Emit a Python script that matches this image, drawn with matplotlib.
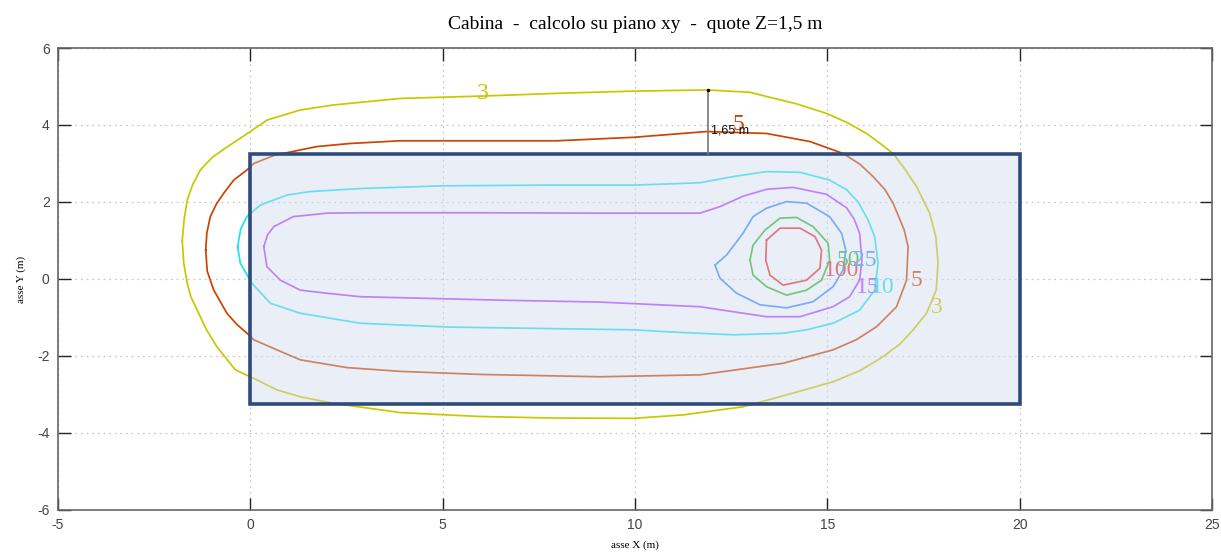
import matplotlib
matplotlib.use('Agg')
import matplotlib.pyplot as plt
from matplotlib.patches import Rectangle

plt.rcParams['axes.unicode_minus'] = False

# contour levels (uT) and colours
levels = [3, 5, 10, 15, 25, 50, 100]
colors = ['#c8c800', '#cc4400', '#20e2f0', '#b444ff', '#3a8cff', '#30b830', '#e83232']

# contour lines (x, y in m)
x3 = [-1.77, -1.72, -1.64, -1.5, -1.3, -1.0, -0.65, -0.3, 0.0, 0.44, 1.3, 2.16, 3.9, 5.97, 7.9, 9.95, 11.87,
      12.99, 13.42, 14.2, 14.98, 15.5, 16.02, 16.4, 16.71, 17.02, 17.32, 17.66, 17.82, 17.88, 17.83, 17.58,
      17.23, 16.9, 16.45, 15.85, 15.15, 13.94, 12.81, 11.25, 9.96, 7.79, 5.9, 3.9, 2.16, 1.3, 0.69, 0.17,
      -0.39, -0.87, -1.15, -1.38, -1.55, -1.64, -1.73, -1.77]
y3 = [1.0, 1.55, 2.05, 2.45, 2.83, 3.15, 3.4, 3.63, 3.83, 4.13, 4.39, 4.52, 4.69, 4.75, 4.82, 4.88, 4.91,
      4.85, 4.74, 4.55, 4.30, 4.07, 3.78, 3.5, 3.26, 2.85, 2.40, 1.71, 1.1, 0.41, -0.29, -0.89,
      -1.32, -1.68, -2.02, -2.38, -2.67, -3.01, -3.32, -3.53, -3.62, -3.61, -3.57, -3.47, -3.23, -3.06, -2.88,
      -2.62, -2.36, -1.76, -1.3, -0.81, -0.45, -0.11, 0.4, 1.0]

x5 = [-1.16, -1.13, -1.04, -0.88, -0.69, -0.43, -0.09, 0.09, 0.69, 0.95, 1.73, 2.6, 3.9, 7.97, 9.96, 11.86,
      13.42, 14.55, 15.41, 15.85, 16.19, 16.5, 16.71, 17.0, 17.1, 17.06, 16.8, 16.28, 15.75, 15.15, 13.85,
      11.69, 9.09, 6.0, 3.9, 2.5, 1.3, 0.69, 0.09, -0.04, -0.35, -0.61, -0.95, -1.12, -1.16]
y5 = [0.75, 1.2, 1.62, 1.95, 2.23, 2.57, 2.83, 3.0, 3.24, 3.28, 3.44, 3.52, 3.59, 3.59, 3.68, 3.83,
      3.78, 3.57, 3.26, 2.98, 2.66, 2.32, 1.97, 1.27, 0.84, -0.03, -0.72, -1.24, -1.58, -1.84, -2.19,
      -2.49, -2.54, -2.48, -2.4, -2.3, -2.1, -1.84, -1.58, -1.45, -1.18, -0.89, -0.29, 0.2, 0.75]

x10 = [-0.33, -0.25, -0.09, 0.26, 0.95, 1.56, 2.86, 5.0, 8.0, 10.0, 11.17, 11.69, 12.55, 13.42, 14.29,
       15.06, 15.5, 15.8, 16.05, 16.23, 16.32, 16.23, 15.84, 15.15, 14.46, 13.85, 12.55, 10.82, 9.95, 5.19,
       2.86, 1.3, 0.52, 0.04, -0.26, -0.33]
y10 = [0.84, 1.3, 1.62, 1.92, 2.18, 2.27, 2.35, 2.42, 2.44, 2.44, 2.48, 2.5, 2.66, 2.79, 2.77,
       2.57, 2.32, 2.0, 1.55, 1.1, 0.41, -0.29, -0.81, -1.15, -1.32, -1.41, -1.45, -1.37, -1.32, -1.25,
       -1.15, -0.89, -0.63, -0.11, 0.41, 0.84]

x15 = [0.35, 0.45, 0.61, 1.12, 1.99, 2.86, 6.0, 9.0, 11.69, 12.21, 12.81, 13.42, 14.11, 14.98, 15.5,
       15.7, 15.84, 15.9, 15.84, 15.58, 15.15, 14.29, 13.42, 12.55, 11.69, 9.09, 6.49, 2.86, 1.99, 1.3,
       0.78, 0.43, 0.35]
y15 = [0.84, 1.15, 1.36, 1.62, 1.71, 1.72, 1.72, 1.71, 1.71, 1.88, 2.15, 2.33, 2.38, 2.2, 1.85,
       1.55, 1.19, 0.49, -0.03, -0.46, -0.72, -0.98, -0.98, -0.85, -0.72, -0.6, -0.55, -0.46, -0.37, -0.29,
       -0.03, 0.32, 0.84]

x25 = [12.08, 12.38, 12.81, 13.07, 13.42, 13.94, 14.46, 15.06, 15.37, 15.48, 15.41, 15.15, 14.63,
       13.94, 13.25, 12.64, 12.21, 12.08]
y25 = [0.36, 0.62, 1.19, 1.62, 1.84, 2.01, 1.97, 1.62, 1.19, 0.75, 0.23, -0.2, -0.59,
       -0.75, -0.67, -0.37, 0.02, 0.36]

x50 = [12.99, 13.07, 13.38, 13.77, 14.2, 14.63, 15.02, 15.06, 14.85, 14.46, 13.94, 13.42, 13.07, 12.99]
y50 = [0.49, 0.88, 1.27, 1.58, 1.6, 1.36, 0.93, 0.49, -0.03, -0.29, -0.42, -0.2, 0.1, 0.49]

x100 = [13.42, 13.77, 14.29, 14.68, 14.85, 14.81, 14.46, 13.85, 13.51, 13.4, 13.42]
y100 = [1.01, 1.32, 1.32, 1.1, 0.75, 0.28, -0.03, -0.16, 0.1, 0.49, 1.01]

# labels: text, x, y, colour index
lab_text = ['3', '5', '100', '50', '25', '15', '10', '5', '3']
lab_x = [6.05, 12.68, 15.38, 15.55, 15.97, 16.05, 16.44, 17.32, 17.84]
lab_y = [4.83, 4.02, 0.23, 0.49, 0.49, -0.23, -0.23, -0.03, -0.73]
lab_c = [0, 1, 6, 5, 4, 3, 2, 1, 0]

# cabin outline
cab_x0, cab_x1 = 0, 20
cab_y0, cab_y1 = -3.25, 3.25

# distance marker
dist_x = 11.9
dist_y0, dist_y1 = 3.25, 4.91

fig = plt.figure(figsize=(12.21, 5.53), dpi=100)
ax = fig.add_axes([0.0475, 0.0778, 0.9451, 0.8354])

lines_x = [x3, x5, x10, x15, x25, x50, x100]
lines_y = [y3, y5, y10, y15, y25, y50, y100]
for i in range(len(levels)):
    ax.plot(lines_x[i], lines_y[i], color=colors[i], lw=1.25, zorder=2)

for t, lx, ly, ci in zip(lab_text, lab_x, lab_y, lab_c):
    ax.text(lx, ly, t, color=colors[ci], fontsize=17, family='Liberation Serif',
            ha='center', va='center', zorder=2)

# semi transparent cabin over the lines
ax.add_patch(Rectangle((cab_x0, cab_y0), cab_x1 - cab_x0, cab_y1 - cab_y0,
                       facecolor='#cedaed', alpha=0.42, edgecolor='none', zorder=3))
ax.add_patch(Rectangle((cab_x0, cab_y0), cab_x1 - cab_x0, cab_y1 - cab_y0,
                       facecolor='none', edgecolor='#2f4b7c', lw=2.6, zorder=4))

ax.plot([dist_x, dist_x], [dist_y0, dist_y1], color='#777777', lw=1.2, zorder=5)
ax.plot([dist_x], [dist_y1], marker='.', color='black', ms=3, zorder=5)
ax.text(dist_x + 0.08, 3.85, '1,65 m', fontsize=9, family='Liberation Sans',
        color='#111111', va='center', ha='left', zorder=5)

ax.set_xlim(-5, 25)
ax.set_ylim(-6, 6)
ax.set_xticks(range(-5, 26, 5))
ax.set_yticks(range(-6, 7, 2))
ax.grid(True, color='#c8c8c8', linestyle=(0, (1.5, 3)), lw=0.9, zorder=0)
ax.set_axisbelow(True)
ax.tick_params(direction='in', length=9, width=1, color='#222222', labelcolor='#444444',
               labelsize=10, top=True, right=True, pad=6)
for lbl in ax.get_xticklabels() + ax.get_yticklabels():
    lbl.set_family('Liberation Sans')
for s in ax.spines.values():
    s.set_color('#666666')
    s.set_linewidth(1.2)

ax.set_xlabel('asse X (m)', family='Liberation Serif', fontsize=8, labelpad=6)
ax.set_ylabel('asse Y (m)', family='Liberation Serif', fontsize=8, labelpad=8)
ax.set_title('Cabina  -  calcolo su piano xy  -  quote Z=1,5 m', family='Liberation Serif',
             fontsize=14, pad=14)

fig.savefig('out.png', dpi=100)
